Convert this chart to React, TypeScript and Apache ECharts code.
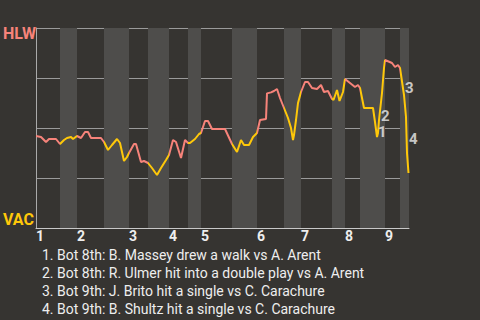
import React, { useEffect, useRef } from "react";
import * as echarts from "echarts";

// Game progress (event clock) and HLW win probability at each event
const progress = [
  0, 5, 10, 13, 20, 24, 28, 31, 35, 37, 41, 45, 49, 52, 55, 65, 68, 72, 76, 81,
  84, 88, 91, 93, 98, 100, 105, 108, 112, 116, 121, 125, 130, 133, 137, 140, 145,
  149, 152, 154, 159, 163, 165, 169, 172, 176, 189, 196, 201, 205, 208, 213, 217,
  221, 224, 230, 231, 235, 238, 241, 244, 248, 252, 255, 257, 258, 260, 262, 265,
  269, 272, 276, 281, 285, 288, 292, 296, 297.5, 301, 303.5, 307, 309, 314, 319,
  322, 324, 328, 337, 339, 341, 342, 343, 346, 348, 349, 356, 359, 362, 364, 368,
  370, 371, 372.5, 373,
];
const hlwWinProb = [
  0.46, 0.455, 0.43, 0.445, 0.445, 0.42, 0.44, 0.45, 0.455, 0.445, 0.46, 0.45,
  0.48, 0.48, 0.45, 0.45, 0.43, 0.39, 0.415, 0.445, 0.425, 0.335, 0.355, 0.375,
  0.42, 0.42, 0.33, 0.335, 0.325, 0.3, 0.265, 0.3, 0.34, 0.365, 0.44, 0.43, 0.35,
  0.44, 0.425, 0.425, 0.445, 0.47, 0.475, 0.535, 0.535, 0.495, 0.495, 0.42, 0.38,
  0.44, 0.415, 0.415, 0.455, 0.475, 0.54, 0.545, 0.673, 0.678, 0.685, 0.695, 0.65,
  0.6, 0.55, 0.5, 0.44, 0.465, 0.54, 0.625, 0.68, 0.73, 0.73, 0.7, 0.695, 0.715,
  0.68, 0.685, 0.645, 0.64, 0.69, 0.635, 0.68, 0.745, 0.725, 0.705, 0.715, 0.7,
  0.6, 0.6, 0.53, 0.455, 0.475, 0.54, 0.675, 0.8, 0.84, 0.825, 0.805, 0.815, 0.8,
  0.665, 0.555, 0.375, 0.275, 0.275,
];

// Start of every half inning (top, bottom, top, bottom ...)
const halfInningStarts = [
  0, 24, 41, 68, 93, 112, 133, 152, 165, 196, 221, 248, 265, 296, 309, 324, 349, 364,
];
const gameEnd = 373;
const inningLabels = ["1", "2", "3", "4", "5", "6", "7", "8", "9"];

// Key plays
const annoProgress = [342, 345, 369, 373];
const annoWinProb = [0.4825, 0.5625, 0.7, 0.445];
const annoLabels = ["1", "2", "3", "4"];
const playDescriptions = [
  "1. Bot 8th: B. Massey drew a walk vs A. Arent",
  "2. Bot 8th: R. Ulmer hit into a double play vs A. Arent",
  "3. Bot 9th: J. Brito hit a single vs C. Carachure",
  "4. Bot 9th: B. Shultz hit a single vs C. Carachure",
];

const awayTeam = "HLW";
const homeTeam = "VAC";

const RED = "#f7837a";
const YELLOW = "#ffc809";
const BG = "#363431";
const STRIPE = "#4e4d4b";
const FONT = "Roboto";

export default function App() {
  const ref = useRef<HTMLDivElement>(null);
  useEffect(() => {
    if (!ref.current) return;
    const chart = echarts.init(ref.current, undefined, { renderer: "svg" });

    const lineData = progress.map((p, i) => [p, hlwWinProb[i]]);
    const annoData = annoProgress.map((p, i) => [p, annoWinProb[i], annoLabels[i]]);

    const stripes: any[] = [];
    for (let i = 1; i < halfInningStarts.length; i += 2) {
      const end = i + 1 < halfInningStarts.length ? halfInningStarts[i + 1] : gameEnd;
      stripes.push([{ xAxis: halfInningStarts[i] }, { xAxis: end }]);
    }
    const pieces = halfInningStarts.map((s, i) => ({
      gte: s,
      lt: i + 1 < halfInningStarts.length ? halfInningStarts[i + 1] : gameEnd + 1,
      color: i % 2 === 0 ? RED : YELLOW,
    }));
    const inningStarts = halfInningStarts.filter((_, i) => i % 2 === 0);

    chart.setOption({
      animation: false,
      backgroundColor: BG,
      textStyle: { fontFamily: FONT },
      title: {
        text: playDescriptions.join("\n"),
        left: 37,
        top: 241,
        textStyle: {
          color: "#eeeeee",
          fontSize: 14,
          fontWeight: "normal",
          lineHeight: 18,
          fontFamily: FONT,
        },
      },
      grid: { left: 36, top: 28, right: 71, bottom: 92 },
      xAxis: {
        type: "value",
        min: 0,
        max: gameEnd,
        z: 1,
        axisLine: { show: true, lineStyle: { color: "#c8c8c8", width: 1 } },
        axisTick: { show: false },
        splitLine: { show: false },
        axisLabel: {
          customValues: inningStarts,
          formatter: (v: number) => {
            const idx = inningStarts.indexOf(v);
            return idx >= 0 ? inningLabels[idx] : "";
          },
          align: "left",
          margin: 1,
          color: "#eeeeee",
          fontSize: 14,
          fontWeight: "bold",
          fontFamily: FONT,
        },
      },
      yAxis: {
        type: "value",
        min: 0,
        max: 1,
        interval: 0.25,
        z: 1,
        axisLine: { show: true, lineStyle: { color: "#aaaaaa", width: 1 } },
        axisTick: { show: false },
        splitLine: { show: true, lineStyle: { color: "#9a9a9a", width: 1 } },
        axisLabel: {
          align: "left",
          margin: 33,
          formatter: (v: number) =>
            v === 1 ? `{h|${awayTeam}}` : v === 0 ? `{v|${homeTeam}}` : "",
          rich: {
            h: {
              color: RED,
              fontSize: 16,
              fontWeight: "bold",
              fontFamily: FONT,
              padding: [11, 0, 0, 0],
            },
            v: {
              color: YELLOW,
              fontSize: 16,
              fontWeight: "bold",
              fontFamily: FONT,
              padding: [0, 0, 18, 0],
            },
          },
        },
      },
      visualMap: {
        show: false,
        type: "piecewise",
        dimension: 0,
        seriesIndex: 1,
        pieces,
      },
      series: [
        {
          type: "line",
          z: 0,
          data: [],
          silent: true,
          markArea: {
            silent: true,
            itemStyle: { color: STRIPE, opacity: 1 },
            data: stripes,
          },
        },
        {
          type: "line",
          z: 3,
          data: lineData,
          showSymbol: false,
          lineStyle: { width: 2 },
        },
        {
          type: "scatter",
          z: 4,
          clip: false,
          symbolSize: 0,
          data: annoData,
          label: {
            show: true,
            position: "right",
            distance: 0,
            formatter: (p: any) => p.data[2],
            color: "#eeeeee",
            fontSize: 15,
            lineHeight: 14,
            fontWeight: "bold",
            fontFamily: FONT,
          },
        },
      ],
    });
    return () => chart.dispose();
  }, []);
  return (
    <div
      ref={ref}
      style={{ position: "fixed", left: 0, top: 0, width: 480, height: 320 }}
    />
  );
}
